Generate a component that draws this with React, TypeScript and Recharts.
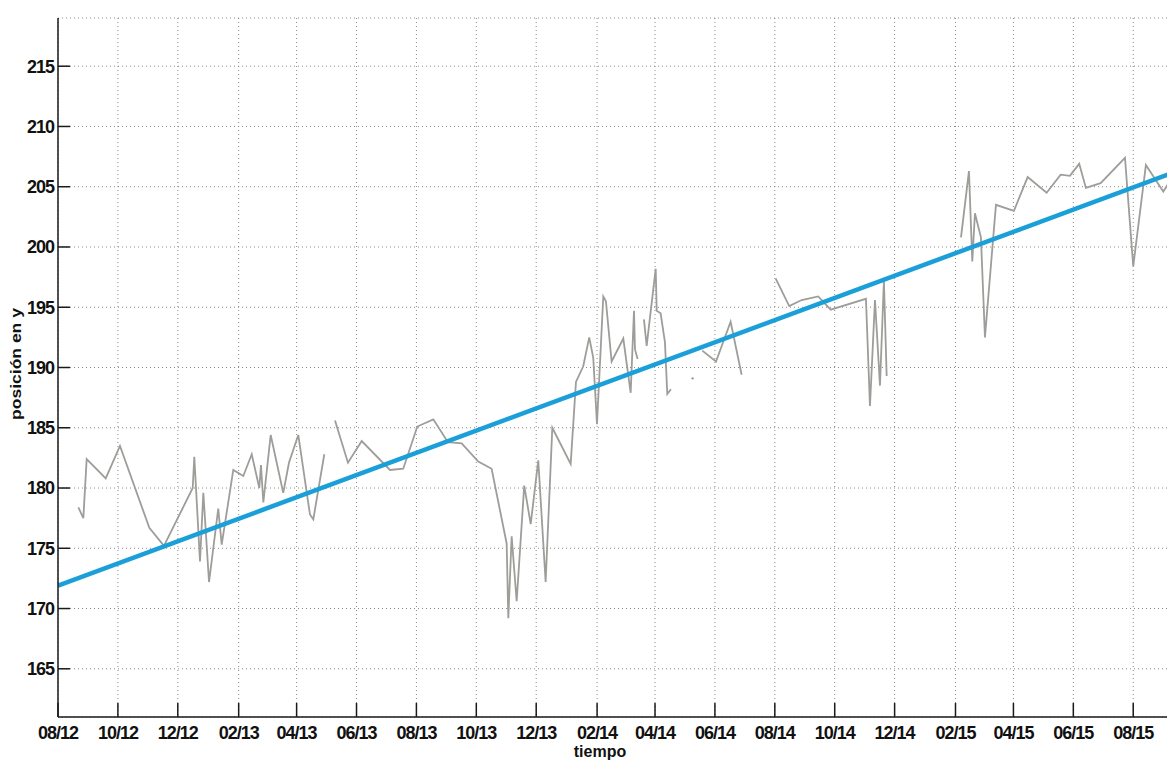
import React from "react";
import { LineChart, Line, XAxis, YAxis, CartesianGrid } from "recharts";

// Serie observada: [días desde 01/08/2012, posición en y]. Cada tramo es un trozo sin huecos.
const tramo1: [number, number][] = [
  [20.7, 178.4], [25.8, 177.5], [29.2, 182.4], [48.6, 180.8], [63.1, 183.5],
  [93.0, 176.7], [107.9, 175.2], [137.2, 180.0], [138.8, 182.6], [144.6, 173.9],
  [148.0, 179.6], [153.8, 172.2], [163.2, 178.3], [166.7, 175.3], [178.5, 181.5],
  [188.7, 181.0], [197.3, 182.8], [205.0, 180.0], [206.7, 181.9], [209.1, 178.8],
  [216.6, 184.4], [229.4, 179.6], [235.2, 182.1], [244.7, 184.4], [256.6, 177.8],
  [260.0, 177.4], [271.2, 182.8],
];

const tramo2: [number, number][] = [
  [282.1, 185.6], [295.3, 182.1], [309.3, 183.9], [338.1, 181.5], [351.6, 181.6],
  [365.9, 185.1], [382.2, 185.7], [397.1, 183.8], [411.1, 183.7], [428.0, 182.2],
  [441.6, 181.6], [456.9, 175.4], [458.6, 169.2], [462.0, 176.0], [467.1, 170.6],
  [474.8, 180.2], [481.4, 177.0], [489.1, 182.3], [496.6, 172.2], [503.4, 185.0],
  [522.1, 182.0], [527.5, 188.8], [534.9, 190.1], [541.0, 192.5], [545.1, 190.8],
  [548.9, 185.3], [555.3, 195.9], [558.0, 195.5], [563.8, 190.5], [575.7, 192.4],
  [583.2, 187.9], [586.6, 194.7], [587.6, 191.5], [590.3, 190.7],
];

const tramo3: [number, number][] = [
  [596.7, 194.0], [599.5, 191.8], [608.7, 198.2], [609.7, 194.7], [613.7, 194.5],
  [618.1, 192.1], [620.5, 187.8], [624.2, 188.2],
];

const puntoAislado: [number, number][] = [[646.3, 189.1]];

const tramo4: [number, number][] = [
  [656.1, 191.4], [670.1, 190.5], [685.0, 193.8], [696.2, 189.4],
];

const tramo5: [number, number][] = [
  [730.8, 197.4], [744.7, 195.1], [757.3, 195.6], [774.2, 195.9], [786.9, 194.8],
  [822.8, 195.7], [826.9, 186.8], [832.0, 195.6], [837.1, 188.5], [841.1, 197.2],
  [843.9, 189.3],
];

const tramo6: [number, number][] = [
  [919.6, 200.8], [927.7, 206.3], [931.1, 198.8], [933.8, 202.8], [939.9, 200.8],
  [944.0, 192.5], [955.2, 203.5], [973.5, 203.0], [987.5, 205.8], [1006.8, 204.5],
  [1021.1, 206.0], [1030.5, 205.9], [1040.0, 206.9], [1046.8, 204.9], [1061.8, 205.3],
  [1086.6, 207.4], [1095.0, 198.4], [1107.9, 206.8], [1125.6, 204.6], [1135.0, 205.8],
];

// Recta de tendencia (extremos)
const tendencia: [number, number][] = [[0, 171.9], [1163, 207.0]];

const etiquetasMes = [
  "08/12", "10/12", "12/12", "02/13", "04/13", "06/13", "08/13", "10/13", "12/13",
  "02/14", "04/14", "06/14", "08/14", "10/14", "12/14", "02/15", "04/15", "06/15", "08/15",
];
const ticksY = [165, 170, 175, 180, 185, 190, 195, 200, 205, 210, 215];

const ORIGEN = Date.UTC(2012, 7, 1);
const diaDe = (mmyy: string) => {
  const [m, y] = mmyy.split("/").map(Number);
  return Math.round((Date.UTC(2000 + y, m - 1, 1) - ORIGEN) / 86400000);
};
const ticksX = etiquetasMes.map(diaDe);
const etiquetaPorDia = new Map(ticksX.map((d, i) => [d, etiquetasMes[i]]));

const aPuntos = (t: [number, number][]) => t.map(([d, v]) => ({ d, v }));

const GRIS = "#9d9d99";
const AZUL = "#1a9fd9";
const EJE = "#1a1a1a";
const fuenteTick = { fill: "#111", fontSize: 18, fontWeight: 700, letterSpacing: -1 };

export default function App() {
  const tramos = [tramo1, tramo2, tramo3, tramo4, tramo5, tramo6];
  return (
    <div
      style={{
        position: "absolute",
        left: 0,
        top: 0,
        width: 1167,
        height: 762,
        overflow: "hidden",
        background: "#fff",
        fontFamily: "'Liberation Sans', Arial, sans-serif",
      }}
    >
      <LineChart width={1210} height={762} margin={{ top: 18, right: 10, bottom: 0, left: 0 }}>
        <CartesianGrid stroke="#8a8a8a" strokeDasharray="1 3" />
        <XAxis
          type="number"
          dataKey="d"
          domain={[0, 1163]}
          allowDataOverflow
          ticks={ticksX}
          interval={0}
          tickFormatter={(d: number) => etiquetaPorDia.get(d) ?? ""}
          height={45}
          tickSize={-14}
          tickMargin={23}
          stroke={EJE}
          strokeWidth={1.5}
          tick={fuenteTick}
        />
        <XAxis
          xAxisId="arriba"
          orientation="top"
          type="number"
          dataKey="d"
          domain={[0, 1163]}
          allowDataOverflow
          ticks={ticksX}
          interval={0}
          height={0}
          tickSize={-14}
          tick={false}
          stroke={EJE}
          strokeWidth={1.5}
        />
        <YAxis
          type="number"
          domain={[161, 219]}
          allowDataOverflow
          ticks={ticksY}
          interval={0}
          width={58}
          tickSize={-12}
          tickMargin={16}
          stroke={EJE}
          strokeWidth={1.5}
          tick={fuenteTick}
        />
        {tramos.map((t, i) => (
          <Line
            key={i}
            data={aPuntos(t)}
            dataKey="v"
            stroke={GRIS}
            strokeWidth={1.8}
            dot={false}
            isAnimationActive={false}
          />
        ))}
        <Line
          data={aPuntos(puntoAislado)}
          dataKey="v"
          stroke={GRIS}
          dot={{ r: 1.2, fill: GRIS, stroke: "none" }}
          isAnimationActive={false}
        />
        <Line
          data={aPuntos(tendencia)}
          dataKey="v"
          stroke={AZUL}
          strokeWidth={4.5}
          dot={false}
          isAnimationActive={false}
        />
      </LineChart>
      <div
        style={{
          position: "absolute",
          left: 600,
          top: 743,
          transform: "translateX(-50%)",
          fontSize: 16,
          fontWeight: 700,
          lineHeight: "17px",
          color: "#111",
        }}
      >
        tiempo
      </div>
      <div
        style={{
          position: "absolute",
          left: 16,
          top: 364,
          transform: "translate(-50%, -50%) rotate(-90deg) scaleX(1.25)",
          fontSize: 14,
          fontWeight: 700,
          lineHeight: "15px",
          color: "#111",
          whiteSpace: "nowrap",
        }}
      >
        posición en y
      </div>
    </div>
  );
}
